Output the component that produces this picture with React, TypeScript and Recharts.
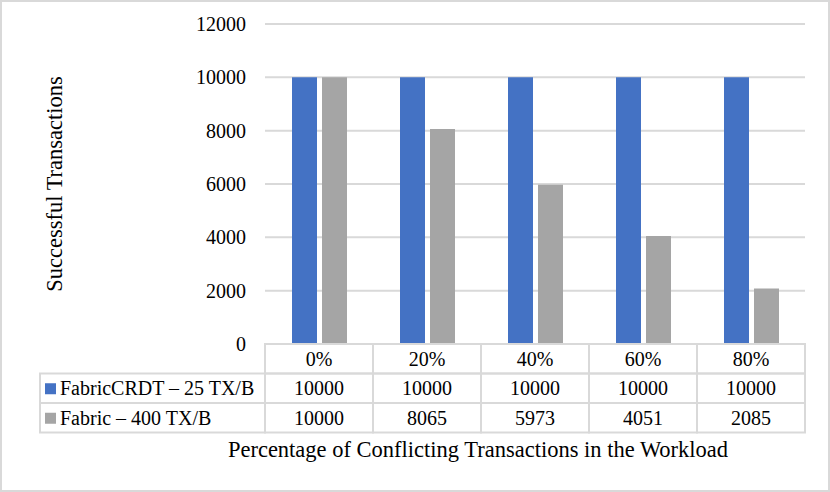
import React from 'react';
import { Bar, BarChart, CartesianGrid, XAxis, YAxis } from 'recharts';

const categories = ['0%', '20%', '40%', '60%', '80%'];
const crdtValues = [10000, 10000, 10000, 10000, 10000];
const fabricValues = [10000, 8065, 5973, 4051, 2085];
const yTicks = [0, 2000, 4000, 6000, 8000, 10000, 12000];

const seriesNames = ['FabricCRDT \u2013 25 TX/B', 'Fabric \u2013 400 TX/B'];
const seriesColors = ['#4472C4', '#A5A5A5'];

const data = categories.map((c, i) => ({ cat: c, crdt: crdtValues[i], fabric: fabricValues[i] }));

const FONT = '"Liberation Serif", "Times New Roman", serif';
const BORDER = '#d9d9d9';
const ROW_H = 29.5;
const LEGEND_W = 225;

const TableTick = (props: any) => {
  const { x, y, index, width, visibleTicksCount } = props;
  const cellW = width / visibleTicksCount;
  const left = x - cellW / 2;
  const top = y;
  const rows = [categories[index], String(crdtValues[index]), String(fabricValues[index])];
  return (
    <g>
      {rows.map((txt, r) => (
        <g key={r}>
          <rect x={left} y={top + r * ROW_H} width={cellW} height={ROW_H} fill="none" stroke={BORDER} strokeWidth={2} />
          <text x={x} y={top + r * ROW_H + ROW_H / 2 + 7} textAnchor="middle" fontSize={20} fill="#000" fontFamily={FONT}>
            {txt}
          </text>
        </g>
      ))}
      {index === 0 &&
        seriesNames.map((name, r) => (
          <g key={name}>
            <rect x={left - LEGEND_W} y={top + (r + 1) * ROW_H} width={LEGEND_W} height={ROW_H} fill="none" stroke={BORDER} strokeWidth={2} />
            <rect x={left - LEGEND_W + 5} y={top + (r + 1) * ROW_H + ROW_H / 2 - 5} width={11} height={11} fill={seriesColors[r]} />
            <text x={left - LEGEND_W + 20} y={top + (r + 1) * ROW_H + ROW_H / 2 + 7} fontSize={20} fill="#000" fontFamily={FONT}>
              {name}
            </text>
          </g>
        ))}
    </g>
  );
};

const YTitle = (props: any) => {
  const { viewBox } = props;
  const cx = 52;
  const cy = viewBox.y + viewBox.height / 2;
  return (
    <text x={cx} y={cy} transform={`rotate(-90 ${cx} ${cy})`} textAnchor="middle" dominantBaseline="central" fontSize={22.5} fontFamily={FONT} fill="#000">
      Successful Transactions
    </text>
  );
};

const XTitle = (props: any) => {
  const { viewBox } = props;
  const cx = viewBox.x + viewBox.width / 2 - 57;
  return (
    <text x={cx} y={455} textAnchor="middle" fontSize={22.5} fontFamily={FONT} fill="#000">
      Percentage of Conflicting Transactions in the Workload
    </text>
  );
};

export default function App() {
  return (
    <div style={{ position: 'absolute', left: 0, top: 0, width: 830, height: 492, background: '#fff', boxSizing: 'border-box', border: `2px solid ${BORDER}` }}>
      <BarChart
        width={826}
        height={488}
        data={data}
        margin={{ top: 22, right: 23, bottom: 0, left: 0 }}
        barGap={5}
        barCategoryGap={26}
        style={{ fontFamily: FONT }}
      >
        <CartesianGrid vertical={false} stroke={BORDER} strokeWidth={2} />
        <XAxis
          dataKey="cat"
          axisLine={false}
          tickLine={false}
          tickSize={0}
          tickMargin={0}
          height={146}
          interval={0}
          tick={<TableTick />}
          label={<XTitle />}
        />
        <YAxis
          width={263}
          domain={[0, 12000]}
          ticks={yTicks}
          axisLine={false}
          tickLine={false}
          tickSize={0}
          tickMargin={19}
          tick={{ fill: '#000', fontSize: 20, fontFamily: FONT }}
          label={<YTitle />}
        />
        <Bar dataKey="crdt" fill={seriesColors[0]} barSize={25} isAnimationActive={false} />
        <Bar dataKey="fabric" fill={seriesColors[1]} barSize={25} isAnimationActive={false} />
      </BarChart>
    </div>
  );
}
